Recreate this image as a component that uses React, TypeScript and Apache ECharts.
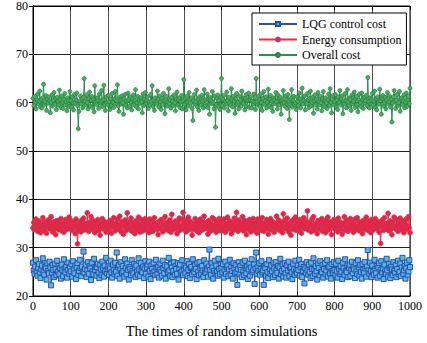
import React, { useEffect, useRef } from "react";
import * as echarts from "echarts";

const STEP = 2;
const xTicks = [0, 100, 200, 300, 400, 500, 600, 700, 800, 900, 1000];
const yTicks = [20, 30, 40, 50, 60, 70, 80];
const seriesNames = ["LQG control cost", "Energy consumption", "Overall cost"];
const xTitle = "The times of random simulations";

const overallCost = [
  60.9, 59.4, 61.3, 60.1, 58.7, 60.6, 61.8, 59.8, 60.3, 62.4, 59.1, 60.7, 58.9, 61.0, 63.8, 59.6, 60.2, 61.5, 58.4, 60.8, 59.9, 61.2, 60.4, 57.9, 60.0, 61.6, 59.3, 60.5, 62.1, 59.7, 60.9, 58.6, 61.1, 60.3, 59.5, 62.6, 60.6, 59.0, 61.4, 60.1, 58.8, 60.7, 61.9, 59.6, 60.2, 58.3, 61.0, 60.5, 59.2, 62.3,
  60.4, 59.1, 61.2, 60.0, 58.5, 61.7, 59.8, 60.6, 62.0, 59.4, 54.6, 58.2, 60.3, 61.4, 59.7, 60.8, 58.9, 61.1, 65.0, 60.2, 59.5, 61.6, 60.0, 58.7, 60.9, 62.2, 59.3, 60.5, 61.3, 59.0, 60.7, 58.1, 63.5, 60.1, 59.6, 61.0, 60.4, 58.8, 61.8, 59.9, 60.3, 62.5, 59.2, 60.6, 63.6, 59.7, 58.4, 61.2, 60.0, 59.5,
  61.5, 60.2, 58.6, 60.8, 59.4, 61.9, 60.1, 59.0, 60.7, 62.3, 59.8, 60.4, 63.7, 59.3, 58.2, 61.1, 60.5, 59.7, 61.4, 60.0, 57.6, 60.9, 61.7, 59.5, 60.3, 58.9, 62.0, 60.6, 59.2, 61.2, 60.1, 58.5, 60.8, 61.6, 59.6, 60.4, 62.7, 59.1, 60.0, 61.3, 58.7, 60.6, 59.9, 61.0, 60.2, 57.9, 61.8, 59.4, 60.7, 62.1,
  59.8, 60.5, 61.2, 58.8, 60.1, 59.5, 61.7, 60.3, 63.5, 59.2, 60.6, 58.4, 61.0, 60.0, 59.7, 62.4, 60.8, 59.1, 61.4, 60.2, 58.6, 60.9, 59.6, 61.9, 60.4, 57.7, 60.7, 61.3, 59.3, 60.1, 62.9, 59.8, 60.5, 58.9, 61.1, 60.3, 59.4, 61.6, 60.0, 58.3, 60.8, 62.2, 59.5, 60.6, 61.0, 59.0, 60.2, 61.5, 58.7, 60.4,
  64.8, 59.6, 60.9, 58.5, 61.3, 60.1, 59.3, 62.1, 60.5, 59.9, 61.0, 58.8, 56.3, 60.4, 61.7, 59.7, 60.2, 62.6, 59.1, 60.7, 58.4, 61.2, 60.0, 59.5, 61.5, 60.3, 58.9, 62.7, 60.6, 59.4, 60.1, 61.8, 59.0, 60.8, 57.6, 61.1, 60.4, 59.8, 62.3, 60.0, 58.7, 61.4, 54.9, 59.6, 60.9, 61.6, 59.2, 60.5, 58.6, 61.0,
  65.0, 59.4, 60.7, 61.5, 58.9, 60.2, 59.7, 62.2, 60.4, 58.3, 61.1, 60.0, 59.5, 62.9, 60.6, 59.1, 61.3, 60.3, 57.8, 60.8, 61.9, 59.6, 60.1, 58.7, 61.4, 60.5, 59.3, 62.4, 60.0, 59.8, 61.0, 58.5, 60.9, 61.7, 59.2, 60.4, 62.0, 59.0, 60.6, 61.2, 58.9, 60.3, 59.7, 61.8, 60.1, 58.6, 65.0, 60.2, 59.5, 61.3,
  60.6, 59.2, 61.8, 60.0, 58.4, 60.9, 62.3, 59.6, 60.4, 61.2, 58.9, 60.1, 62.8, 59.4, 60.7, 61.5, 59.0, 60.3, 58.2, 61.0, 60.5, 59.8, 62.1, 60.2, 58.7, 61.6, 59.5, 60.8, 61.1, 57.6, 60.4, 59.9, 62.5, 60.0, 59.3, 61.4, 60.6, 58.8, 61.7, 60.2, 56.5, 59.7, 60.9, 62.7, 59.1, 60.5, 61.3, 59.6, 60.0, 58.6,
  61.2, 60.3, 59.4, 62.0, 60.8, 58.9, 60.1, 63.0, 59.7, 60.5, 61.4, 58.5, 60.2, 59.8, 61.9, 60.6, 59.0, 60.9, 62.4, 59.3, 60.0, 61.1, 57.8, 60.4, 61.6, 59.6, 60.7, 58.7, 62.1, 60.2, 59.5, 61.3, 60.0, 58.3, 60.8, 62.3, 59.2, 60.5, 61.0, 59.9, 58.8, 60.6, 61.8, 59.4, 62.9, 60.1, 57.9, 60.7, 61.5, 59.6,
  60.3, 61.7, 59.1, 60.6, 58.6, 61.2, 60.0, 62.5, 59.5, 60.8, 61.4, 57.7, 60.2, 59.7, 61.9, 60.4, 58.9, 62.7, 60.1, 59.3, 61.0, 60.6, 58.4, 61.6, 59.8, 60.3, 62.2, 59.0, 60.9, 61.3, 59.6, 58.1, 60.5, 61.8, 60.0, 59.2, 62.0, 60.7, 58.8, 61.1, 59.9, 60.4, 61.5, 59.4, 65.2, 60.2, 58.9, 61.0, 59.7, 60.6,
  61.9, 59.5, 60.3, 62.4, 59.0, 60.8, 58.5, 61.2, 60.1, 59.7, 62.8, 60.4, 57.6, 60.9, 61.5, 59.3, 60.0, 61.1, 58.7, 60.6, 62.1, 59.8, 60.2, 61.4, 59.1, 60.7, 56.0, 59.9, 61.2, 62.5, 60.3, 58.8, 60.5, 61.7, 59.4, 60.0, 62.3, 58.2, 60.8, 61.0, 59.6, 60.4, 61.6, 58.9, 60.1, 62.0, 59.2, 60.6, 61.3, 59.8,
  63.0,
];

const energyConsumption = [
  34.1, 35.2, 33.8, 34.6, 35.9, 34.3, 33.4, 34.9, 35.5, 34.0, 33.1, 35.0, 34.7, 36.2, 34.4, 33.6, 35.3, 34.8, 33.0, 34.5, 35.7, 34.2, 33.9, 35.1, 36.4, 34.6, 33.3, 34.9, 35.4, 34.0, 32.7, 34.8, 35.6, 34.3, 33.7, 35.2, 34.5, 36.0, 33.5, 34.7, 35.0, 33.2, 34.4, 35.8, 34.1, 33.8, 35.3, 34.6, 36.3, 33.9,
  34.8, 35.5, 33.6, 34.2, 35.1, 34.7, 32.9, 35.9, 34.4, 30.8, 33.5, 34.9, 35.4, 34.0, 33.3, 35.7, 34.6, 36.1, 34.2, 33.7, 35.0, 34.5, 37.2, 34.1, 33.4, 35.3, 34.8, 36.4, 33.8, 34.3, 35.6, 34.9, 33.1, 34.6, 35.2, 34.0, 35.8, 33.6, 34.4, 32.6, 35.0, 34.7, 36.0, 33.9, 34.5, 35.4, 34.2, 33.2, 35.1, 34.8,
  33.7, 34.9, 35.6, 34.3, 33.0, 35.2, 34.6, 36.2, 34.0, 33.5, 35.0, 34.4, 35.9, 33.8, 34.7, 36.5, 34.1, 33.3, 35.4, 34.8, 32.8, 34.5, 35.7, 34.2, 33.6, 37.2, 34.9, 33.9, 35.3, 34.0, 36.1, 33.4, 34.6, 35.1, 34.3, 32.9, 35.5, 34.8, 33.7, 35.0, 36.3, 34.4, 33.2, 34.7, 35.8, 34.1, 33.5, 35.2, 34.6, 36.0,
  34.2, 33.6, 35.3, 34.8, 33.1, 35.9, 34.5, 34.0, 35.6, 33.4, 34.9, 36.2, 34.3, 33.8, 35.1, 34.6, 32.7, 35.4, 34.1, 33.9, 35.8, 34.4, 33.3, 35.0, 34.7, 36.4, 33.7, 34.5, 35.2, 34.0, 33.5, 35.7, 34.8, 33.2, 36.9, 34.3, 35.0, 33.8, 34.6, 35.5, 34.1, 32.9, 35.3, 34.7, 36.1, 33.6, 34.4, 35.9, 34.0, 37.3,
  33.9, 35.1, 34.6, 33.3, 35.7, 34.2, 36.3, 33.7, 34.8, 35.4, 34.0, 32.6, 35.0, 34.5, 33.8, 36.0, 34.3, 33.5, 35.5, 34.9, 33.1, 34.7, 35.9, 34.1, 33.6, 35.3, 34.4, 36.5, 33.9, 34.6, 35.2, 34.0, 32.8, 35.6, 34.8, 33.4, 35.0, 34.2, 36.2, 33.7, 34.5, 35.8, 34.3, 33.2, 35.1, 34.7, 33.9, 36.0, 34.4, 33.5,
  35.4, 34.1, 33.7, 35.9, 34.6, 33.2, 35.0, 34.4, 36.3, 33.8, 34.9, 35.5, 34.2, 32.9, 35.2, 34.7, 33.6, 36.1, 34.0, 35.3, 37.3, 34.5, 33.4, 35.7, 34.8, 33.9, 35.1, 34.3, 36.4, 33.5, 34.6, 35.6, 34.0, 32.7, 35.0, 34.9, 33.8, 35.8, 34.2, 33.3, 35.4, 34.7, 36.0, 33.6, 34.4, 35.2, 34.1, 33.0, 35.9, 34.5,
  34.0, 35.5, 33.6, 34.8, 36.2, 34.3, 33.4, 35.1, 34.6, 33.9, 35.8, 34.2, 32.8, 35.3, 34.7, 36.0, 33.7, 34.5, 35.4, 34.1, 33.2, 35.0, 34.8, 36.5, 33.8, 34.4, 35.7, 34.0, 33.5, 35.2, 34.9, 33.1, 37.0, 34.3, 35.6, 33.9, 34.6, 36.1, 34.2, 33.3, 35.0, 34.7, 32.6, 35.5, 34.4, 33.8, 35.9, 34.1, 36.3, 33.6,
  34.9, 35.3, 34.2, 33.5, 35.8, 34.6, 33.0, 35.1, 34.4, 36.2, 33.9, 34.7, 35.5, 34.0, 37.6, 33.7, 34.5, 35.2, 34.8, 33.3, 35.9, 34.1, 36.4, 33.6, 34.3, 35.0, 34.7, 32.9, 35.6, 34.2, 33.8, 35.4, 34.6, 36.0, 33.4, 34.9, 35.1, 34.0, 33.1, 35.7, 34.5, 36.3, 33.7, 34.3, 35.3, 34.8, 32.7, 35.0, 34.4, 35.8,
  33.9, 34.6, 35.5, 34.1, 33.3, 36.1, 34.7, 33.8, 35.2, 34.4, 32.8, 35.0, 34.9, 36.4, 33.6, 34.3, 35.7, 34.0, 33.4, 35.3, 34.8, 36.0, 33.9, 34.5, 35.1, 33.2, 34.7, 35.9, 34.2, 33.7, 36.2, 34.4, 35.4, 33.5, 34.9, 35.0, 34.1, 32.9, 35.6, 34.6, 33.8, 35.2, 36.3, 34.3, 33.6, 34.8, 35.5, 34.0, 33.1, 35.8,
  34.5, 33.7, 35.3, 34.2, 36.0, 33.9, 34.8, 35.4, 34.1, 33.2, 35.1, 30.9, 34.6, 35.7, 34.3, 33.6, 36.2, 34.9, 33.8, 35.0, 34.4, 37.1, 33.5, 34.7, 35.5, 34.0, 32.7, 35.2, 34.6, 36.3, 33.9, 34.2, 35.8, 34.5, 33.4, 35.0, 34.8, 36.1, 33.7, 34.3, 35.6, 34.0, 33.1, 35.3, 34.7, 35.9, 33.8, 34.4, 36.4, 34.1,
  33.1,
];

const lqgControlCost = [
  26.9, 25.3, 24.6, 26.1, 27.4, 25.0, 24.2, 25.8, 26.6, 24.9, 23.7, 25.5, 26.3, 27.8, 25.1, 24.4, 26.0, 25.7, 23.4, 26.8, 25.2, 24.7, 27.1, 25.9, 22.2, 24.8, 26.4, 25.4, 23.9, 26.7, 25.6, 24.3, 27.3, 25.0, 26.2, 24.5, 25.8, 23.6, 26.5, 25.3, 24.1, 27.6, 25.7, 24.9, 26.0, 23.8, 25.4, 26.9, 24.6, 25.9,
  25.1, 26.6, 24.0, 27.2, 25.5, 24.7, 26.3, 23.5, 25.9, 26.8, 24.4, 25.2, 27.5, 25.8, 24.1, 26.1, 25.0, 29.2, 24.8, 25.6, 26.5, 23.9, 25.3, 27.0, 24.6, 26.2, 25.7, 23.3, 26.9, 25.1, 24.5, 27.7, 25.4, 26.0, 24.2, 25.9, 26.7, 24.9, 23.7, 26.4, 25.5, 24.3, 27.1, 25.8, 24.0, 26.3, 25.2, 27.9, 24.7, 25.6,
  26.1, 24.4, 25.7, 27.3, 24.9, 23.8, 26.5, 25.3, 24.6, 26.9, 25.0, 29.0, 24.2, 25.9, 26.4, 23.6, 25.5, 27.0, 24.8, 26.2, 25.1, 24.0, 27.6, 25.8, 24.5, 26.7, 25.4, 23.4, 26.0, 25.6, 24.3, 27.4, 25.2, 24.7, 26.6, 25.9, 23.9, 26.3, 25.0, 24.4, 27.8, 25.5, 24.1, 26.8, 25.3, 24.9, 26.1, 23.7, 25.7, 27.2,
  24.6, 25.9, 26.5, 24.0, 27.1, 25.2, 23.5, 26.3, 25.6, 24.8, 26.9, 25.1, 24.3, 27.5, 25.7, 24.5, 26.0, 23.8, 25.4, 26.7, 25.0, 24.2, 27.3, 25.8, 24.7, 26.4, 23.6, 25.5, 26.1, 24.9, 27.9, 25.3, 24.1, 26.6, 25.9, 23.9, 25.2, 27.0, 24.4, 26.2, 25.6, 24.6, 26.8, 23.4, 25.8, 26.5, 24.8, 25.1, 27.4, 24.3,
  25.5, 26.3, 24.7, 25.9, 27.2, 24.1, 25.4, 26.6, 23.7, 25.8, 26.0, 24.5, 27.6, 25.2, 24.9, 26.4, 25.6, 23.5, 26.9, 25.0, 24.3, 27.0, 25.7, 24.6, 26.2, 25.3, 23.9, 27.4, 25.1, 24.8, 26.7, 25.5, 24.0, 26.1, 29.6, 25.4, 24.4, 26.8, 25.9, 23.6, 25.2, 27.3, 24.7, 26.3, 25.0, 24.2, 27.7, 25.6, 24.5, 26.5,
  25.8, 24.9, 26.6, 23.8, 25.3, 27.1, 24.6, 25.9, 26.3, 24.1, 25.5, 27.5, 24.4, 26.0, 25.2, 23.6, 26.8, 25.7, 24.8, 26.4, 25.0, 22.3, 25.6, 27.0, 24.5, 26.2, 25.4, 23.9, 26.9, 25.1, 24.3, 27.3, 25.8, 24.7, 26.1, 23.5, 25.5, 26.7, 24.2, 25.9, 27.6, 24.9, 25.3, 26.5, 22.5, 25.7, 29.0, 24.6, 26.0, 25.2,
  26.8, 24.4, 25.6, 27.2, 24.9, 25.3, 22.3, 26.1, 25.8, 24.2, 26.6, 25.0, 23.7, 27.4, 25.5, 24.6, 26.3, 25.1, 23.9, 26.9, 25.7, 24.3, 27.0, 25.4, 24.8, 26.2, 23.6, 25.9, 27.7, 24.5, 25.2, 26.5, 24.0, 25.6, 26.8, 24.7, 23.8, 26.4, 25.3, 27.1, 24.1, 25.8, 26.0, 24.9, 23.5, 26.7, 25.5, 24.4, 27.3, 25.1,
  24.7, 26.3, 25.4, 27.5, 24.2, 25.9, 26.6, 23.9, 25.2, 26.0, 22.6, 25.7, 24.8, 27.0, 25.3, 24.4, 26.5, 25.0, 23.7, 26.9, 25.6, 24.1, 27.8, 25.5, 24.6, 26.2, 25.1, 23.4, 26.7, 25.8, 24.3, 27.2, 25.0, 24.9, 26.4, 23.8, 25.6, 26.8, 24.5, 25.3, 27.4, 24.0, 25.9, 26.1, 24.7, 23.6, 26.6, 25.2, 24.8, 27.0,
  25.4, 24.3, 26.7, 25.1, 23.8, 27.3, 25.6, 24.6, 26.2, 25.0, 23.5, 26.9, 25.7, 24.4, 27.6, 25.2, 24.9, 26.3, 23.9, 25.8, 26.5, 24.1, 25.3, 27.1, 24.7, 26.0, 25.5, 23.7, 26.8, 25.1, 24.5, 27.4, 25.9, 24.2, 26.4, 25.0, 23.6, 26.6, 25.4, 24.8, 27.0, 25.7, 24.0, 26.1, 29.5, 25.3, 24.6, 26.9, 25.2, 23.9,
  26.3, 25.0, 24.4, 27.5, 25.6, 24.7, 26.2, 23.8, 25.9, 26.8, 24.2, 25.4, 27.2, 24.9, 25.7, 23.5, 26.5, 25.1, 24.6, 27.7, 25.3, 24.0, 26.6, 25.8, 23.7, 26.1, 25.5, 24.3, 27.0, 25.2, 24.8, 26.4, 23.9, 25.6, 27.3, 24.5, 25.0, 26.7, 24.1, 25.9, 27.9, 24.6, 25.3, 26.2, 23.6, 25.7, 26.9, 24.4, 25.1, 27.4,
  26.0,
];

const FONT = "Liberation Serif";

function toPairs(values: number[]) {
  return values.map((v, i) => [i * STEP, v]);
}

export default function App() {
  const ref = useRef<HTMLDivElement>(null);

  useEffect(() => {
    if (!ref.current) return;
    const chart = echarts.init(ref.current, null, { renderer: "svg" });
    const gridColor = "#505050";
    chart.setOption({
      animation: false,
      backgroundColor: "#ffffff",
      grid: {
        left: 33,
        right: 17,
        top: 6,
        bottom: 41,
        show: true,
        borderColor: "#000",
        borderWidth: 1,
        backgroundColor: "transparent",
      },
      legend: {
        orient: "vertical",
        left: 252,
        top: 13,
        padding: [4, 5, 3, 6],
        itemGap: 1.5,
        itemWidth: 38,
        itemHeight: 5,
        backgroundColor: "#fff",
        borderColor: "#000",
        borderWidth: 1,
        borderRadius: 0,
        textStyle: { fontFamily: FONT, fontSize: 12, color: "#000", lineHeight: 14 },
        data: seriesNames,
      },
      xAxis: [
        {
          type: "value",
          min: xTicks[0],
          max: xTicks[xTicks.length - 1],
          interval: 100,
          name: xTitle,
          nameLocation: "middle",
          nameGap: 27,
          nameTextStyle: { fontFamily: FONT, fontSize: 14.5, color: "#000" },
          axisLine: { show: true, lineStyle: { color: "#000" } },
          axisTick: { inside: true, length: 4, lineStyle: { color: "#000" } },
          axisLabel: {
            fontFamily: FONT,
            fontSize: 12,
            color: "#000",
            margin: 4,
            formatter: (v: number) => String(v),
          },
          splitLine: { show: true, lineStyle: { color: gridColor, width: 1 } },
        },
        {
          type: "value",
          position: "top",
          min: xTicks[0],
          max: xTicks[xTicks.length - 1],
          interval: 100,
          axisLine: { show: true, lineStyle: { color: "#000" } },
          axisTick: { inside: true, length: 4, lineStyle: { color: "#000" } },
          axisLabel: { show: false },
          splitLine: { show: false },
        },
      ],
      yAxis: [
        {
          type: "value",
          min: yTicks[0],
          max: yTicks[yTicks.length - 1],
          interval: 10,
          axisLine: { show: true, lineStyle: { color: "#000" } },
          axisTick: { show: true, inside: true, length: 4, lineStyle: { color: "#000" } },
          axisLabel: { fontFamily: FONT, fontSize: 12, color: "#000", margin: 5 },
          splitLine: { show: true, lineStyle: { color: "#222", width: 1 } },
        },
        {
          type: "value",
          position: "right",
          min: yTicks[0],
          max: yTicks[yTicks.length - 1],
          interval: 10,
          axisLine: { show: true, lineStyle: { color: "#000" } },
          axisTick: { show: true, inside: true, length: 4, lineStyle: { color: "#000" } },
          axisLabel: { show: false },
          splitLine: { show: false },
        },
      ],
      series: [
        {
          name: seriesNames[0],
          type: "line",
          data: toPairs(lqgControlCost),
          symbol: "rect",
          symbolSize: 5,
          lineStyle: { color: "#2c4ea8", width: 1 },
          itemStyle: { color: "#55b8e8", borderColor: "#2c4ea8", borderWidth: 1 },
        },
        {
          name: seriesNames[1],
          type: "line",
          data: toPairs(energyConsumption),
          symbol: "circle",
          symbolSize: 5,
          lineStyle: { color: "#ee2a3c", width: 1 },
          itemStyle: { color: "#ec2237", borderColor: "#c03a70", borderWidth: 0.7 },
        },
        {
          name: seriesNames[2],
          type: "line",
          data: toPairs(overallCost),
          symbol: "circle",
          symbolSize: 4,
          lineStyle: { color: "#2e8e4e", width: 1 },
          itemStyle: { color: "#48ad5e", borderColor: "#2a7a42", borderWidth: 0.7 },
        },
      ],
    });
    return () => chart.dispose();
  }, []);

  return (
    <div
      ref={ref}
      style={{ position: "fixed", left: 0, top: 0, width: 427, height: 343 }}
    />
  );
}
